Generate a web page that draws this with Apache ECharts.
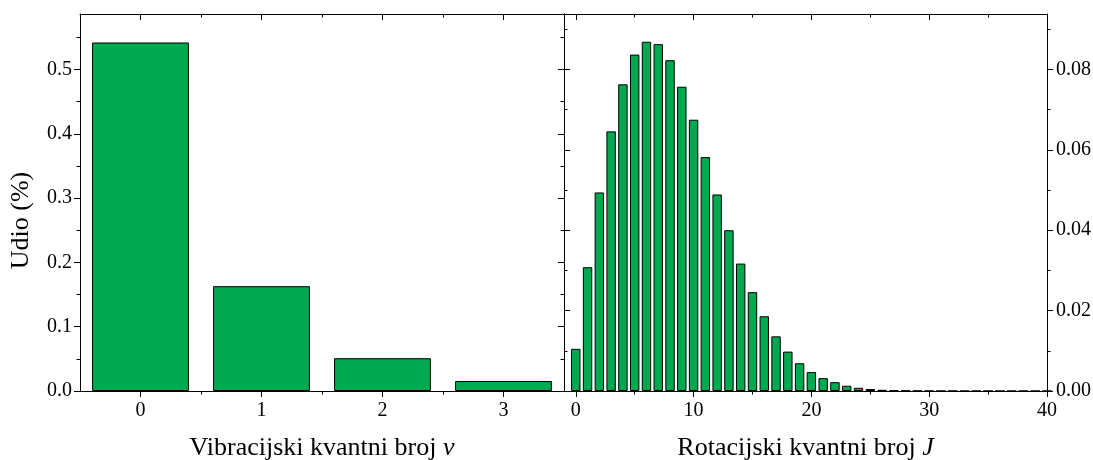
<!DOCTYPE html>
<html><head><meta charset="utf-8">
<script src="https://cdn.jsdelivr.net/npm/echarts@6/dist/echarts.min.js"></script>
<style>html,body{margin:0;padding:0;background:#fff}#c{width:1093px;height:460px}</style>
</head><body><div id="c"></div>
<script>
// Data
var vibLevels = [0, 1, 2, 3];
var vibValues = [0.542, 0.163, 0.051, 0.0156];
var rotLevels = [0,1,2,3,4,5,6,7,8,9,10,11,12,13,14,15,16,17,18,19,20,21,22,23,24,25,26,27,28,29,30,31,32,33,34,35,36,37,38,39,40];
var rotValues = [0.0105,0.0308,0.0494,0.0646,0.0763,0.0837,0.0869,0.0863,0.0823,0.0757,0.0675,0.0582,0.0489,0.0400,0.0317,0.0246,0.0186,0.0136,0.0098,0.0069,0.0047,0.0032,0.0022,0.0013,0.0008,0.0005,0.0003,0.0002,0.0001,0.00006,0.00003,0.00002,0.00001,0.000005,0.000002,0.000001,0,0,0,0,0];
var vibXTicks = [0, 1, 2, 3];
var vibXMinor = [0.5, 1.5, 2.5];
var rotXTicks = [0, 10, 20, 30, 40];
var rotXMinor = [5, 15, 25, 35];
var leftYTicks = [0, 0.1, 0.2, 0.3, 0.4, 0.5];
var leftYMinor = [0.05, 0.15, 0.25, 0.35, 0.45, 0.55];
var rightYTicks = [0, 0.02, 0.04, 0.06, 0.08];
var rightYMinor = [0.01, 0.03, 0.05, 0.07, 0.09];
var yTitle = 'Udio (%)';
var vibTitle = ['Vibracijski kvantni broj ', 'v'];
var rotTitle = ['Rotacijski kvantni broj ', 'J'];

var FONT = 'Liberation Serif';
var LINE = {show: true, onZero: false, lineStyle: {color: '#000', width: 1}};

function ax(opts) {
  var a = {
    type: 'value', gridIndex: opts.grid, position: opts.pos,
    min: opts.min, max: opts.max,
    splitLine: {show: false},
    axisLine: opts.line ? LINE : {show: false, onZero: false},
    axisTick: {show: true, inside: !!opts.inside, length: opts.len, customValues: opts.ticks,
               lineStyle: {color: '#000', width: 1}},
    axisLabel: {show: false}
  };
  if (opts.labels) {
    a.axisLabel = {show: true, customValues: opts.ticks, color: '#000', fontFamily: FONT, fontSize: 20,
                   margin: opts.margin, formatter: opts.fmt};
  }
  if (opts.name) {
    a.name = opts.name; a.nameLocation = 'middle'; a.nameGap = opts.nameGap;
    a.nameTextStyle = opts.nameStyle;
  }
  return a;
}

var titleRich = {
  fontFamily: FONT, fontSize: 26, color: '#000',
  rich: {
    r: {fontFamily: FONT, fontSize: 26, color: '#000'},
    i: {fontFamily: FONT, fontSize: 26, color: '#000', fontStyle: 'italic'}
  }
};

var LMAX = 0.5863, RMAX = 0.0938;

var xAxes = [
  // left grid
  ax({grid:0,pos:'bottom',min:-0.5,max:3.5,line:true,ticks:vibXTicks,len:6,labels:true,margin:10,
      fmt:function(v){return String(v);},
      name:'{r|'+vibTitle[0]+'}{i|'+vibTitle[1]+'}', nameGap:44, nameStyle:titleRich}),
  ax({grid:0,pos:'bottom',min:-0.5,max:3.5,line:false,ticks:vibXMinor,len:3.5}),
  ax({grid:0,pos:'top',min:-0.5,max:3.5,line:true,ticks:vibXTicks,len:6,inside:true}),
  ax({grid:0,pos:'top',min:-0.5,max:3.5,line:false,ticks:vibXMinor,len:3.5,inside:true}),
  // right grid
  ax({grid:1,pos:'bottom',min:-1,max:40,line:true,ticks:rotXTicks,len:6,labels:true,margin:10,
      fmt:function(v){return String(v);},
      name:'{r|'+rotTitle[0]+'}{i|'+rotTitle[1]+'}', nameGap:44, nameStyle:titleRich}),
  ax({grid:1,pos:'bottom',min:-1,max:40,line:false,ticks:rotXMinor,len:3.5}),
  ax({grid:1,pos:'top',min:-1,max:40,line:true,ticks:rotXTicks,len:6,inside:true}),
  ax({grid:1,pos:'top',min:-1,max:40,line:false,ticks:rotXMinor,len:3.5,inside:true})
];
var yAxes = [
  ax({grid:0,pos:'left',min:0,max:LMAX,line:true,ticks:leftYTicks,len:6,labels:true,margin:8,
      fmt:function(v){return v.toFixed(1);},
      name:yTitle, nameGap:46,
      nameStyle:{fontFamily:FONT,fontSize:26,color:'#000',padding:[0,36,0,0]}}),
  ax({grid:0,pos:'left',min:0,max:LMAX,line:false,ticks:leftYMinor,len:3.5}),
  ax({grid:0,pos:'right',min:0,max:LMAX,line:true,ticks:leftYTicks,len:6,inside:true}),
  ax({grid:0,pos:'right',min:0,max:LMAX,line:false,ticks:leftYMinor,len:3.5,inside:true}),
  ax({grid:1,pos:'right',min:0,max:RMAX,line:true,ticks:rightYTicks,len:6,labels:true,margin:9,
      fmt:function(v){return v.toFixed(2);}}),
  ax({grid:1,pos:'right',min:0,max:RMAX,line:false,ticks:rightYMinor,len:3.5}),
  ax({grid:1,pos:'left',min:0,max:RMAX,line:true,ticks:rightYTicks,len:6,inside:true}),
  ax({grid:1,pos:'left',min:0,max:RMAX,line:false,ticks:rightYMinor,len:3.5,inside:true})
];

var barStyle = {color: '#00a84f', borderColor: '#000', borderWidth: 1};

var option = {
  animation: false,
  backgroundColor: '#fff',
  grid: [
    {left: 80, top: 14, width: 484, height: 377, containLabel: false, outerBoundsMode: 'none'},
    {left: 564, top: 14, width: 483, height: 377, containLabel: false, outerBoundsMode: 'none'}
  ],
  xAxis: xAxes,
  yAxis: yAxes,
  series: [
    {type: 'bar', xAxisIndex: 0, yAxisIndex: 0, barWidth: '80%', itemStyle: barStyle,
     data: vibLevels.map(function(x, i){ return [x, vibValues[i]]; })},
    {type: 'bar', xAxisIndex: 4, yAxisIndex: 4, barWidth: '80%', itemStyle: barStyle,
     data: rotLevels.map(function(x, i){ return [x, rotValues[i]]; })}
  ]
};
var chart = echarts.init(document.getElementById('c'), null, {renderer: 'canvas'});
chart.setOption(option);
</script></body></html>
